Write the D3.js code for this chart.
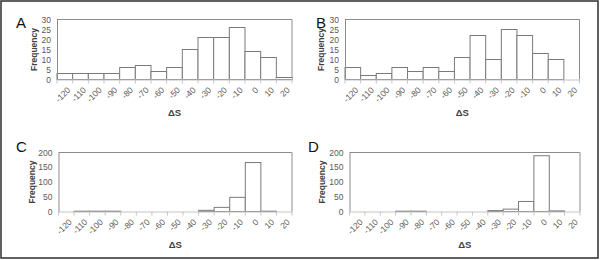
<!DOCTYPE html>
<html>
<head>
<meta charset="utf-8">
<script src="https://cdn.jsdelivr.net/npm/d3@7"></script>
<style>
  html, body { margin: 0; padding: 0; background: #fff; }
  svg { display: block; }
</style>
</head>
<body>
<svg id="chart" width="600" height="260"></svg>
<script>
// ---- data ----
const categories = ["-120","-110","-100","-90","-80","-70","-60","-50","-40","-30","-20","-10","0","10","20"];
const seriesA = [3, 3, 3, 3, 6, 7, 4, 6, 15, 21, 21, 26, 14, 11, 1];
const seriesB = [6, 2, 3, 6, 4, 6, 4, 11, 22, 10, 25, 22, 13, 10, 0];
const seriesC = [0, 1, 1, 1, 0, 0, 0, 0, 0, 4, 14, 48, 166, 1, 0];
const seriesD = [0, 0, 0, 1, 1, 0, 0, 0, 0, 3, 8, 34, 189, 2, 0];
const yTicksTop = [0, 5, 10, 15, 20, 25, 30];
const yTicksBottom = [0, 50, 100, 150, 200];
const panelLetters = ["A", "B", "C", "D"];
const xTitle = "ΔS";
const yTitle = "Frequency";

// ---- layout ----
const svg = d3.select("#chart");
svg.append("rect").attr("x", 1).attr("y", 1).attr("width", 597).attr("height", 257)
  .attr("fill", "none").attr("stroke", "#3a3a3a").attr("stroke-width", 1.6);

const panels = [
  { letter: panelLetters[0], values: seriesA, ticks: yTicksTop, l: 57, r: 292, t: 19.5, b: 79.5, lx: 16, ly: 28, ytx: 34 },
  { letter: panelLetters[1], values: seriesB, ticks: yTicksTop, l: 345, r: 579.5, t: 19.5, b: 79.5, lx: 316, ly: 28, ytx: 321 },
  { letter: panelLetters[2], values: seriesC, ticks: yTicksBottom, l: 58.5, r: 292, t: 152.5, b: 211.5, lx: 16, ly: 152, ytx: 32 },
  { letter: panelLetters[3], values: seriesD, ticks: yTicksBottom, l: 349.5, r: 580, t: 152.5, b: 211.5, lx: 308, ly: 152, ytx: 322 }
];

const font = "'Liberation Sans', Arial, sans-serif";

panels.forEach(p => {
  const g = svg.append("g");
  const x = d3.scaleBand().domain(categories).range([p.l, p.r]).padding(0);
  const yMax = p.ticks[p.ticks.length - 1];
  const y = d3.scaleLinear().domain([0, yMax]).range([p.b, p.t]);

  // plot frame (top & right)
  g.append("path")
    .attr("d", `M${p.l},${p.t}H${p.r}V${p.b}`)
    .attr("fill", "none").attr("stroke", "#8c8c8c").attr("stroke-width", 1);

  // bars
  g.selectAll("rect.bar").data(p.values.map((v, i) => ({ c: categories[i], v })))
    .join("rect").attr("class", "bar")
    .filter(d => d.v > 0)
    .attr("x", d => x(d.c)).attr("width", x.bandwidth())
    .attr("y", d => y(d.v)).attr("height", d => y(0) - y(d.v))
    .attr("fill", "#fff").attr("stroke", "#7a7a7a").attr("stroke-width", 1);

  // y axis
  const yAxis = g.append("g").attr("transform", `translate(${p.l},0)`)
    .call(d3.axisLeft(y).tickValues(p.ticks).tickSize(0).tickPadding(6));
  yAxis.select(".domain").attr("stroke", "#8c8c8c");
  yAxis.selectAll("text").attr("fill", "#595959").style("font-family", font).style("font-size", "8.5px");

  // x axis
  const xAxis = g.append("g").attr("transform", `translate(0,${p.b})`)
    .call(d3.axisBottom(x).tickSize(0));
  xAxis.select(".domain").attr("stroke", "#c4c4c4");
  xAxis.selectAll(".tick text")
    .attr("fill", "#595959").style("font-family", font).style("font-size", "8.5px")
    .attr("text-anchor", "end").attr("y", null).attr("dy", "0.35em")
    .attr("transform", "translate(4,9) rotate(-45)");
  // tick marks between categories
  const bounds = categories.map(c => x(c)).concat([p.r]);
  xAxis.selectAll("line.sep").data(bounds).join("line").attr("class", "sep")
    .attr("x1", d => d).attr("x2", d => d).attr("y1", 0).attr("y2", 4)
    .attr("stroke", "#c4c4c4");

  // titles
  g.append("text").attr("x", (p.l + p.r) / 2).attr("y", p.b + 36)
    .attr("text-anchor", "middle").attr("font-weight", "bold")
    .style("font-family", font).style("font-size", "9.5px").attr("fill", "#404040").text(xTitle);
  g.append("text")
    .attr("transform", `translate(${p.ytx},${(p.t + p.b) / 2}) rotate(-90)`)
    .attr("text-anchor", "middle").attr("dy", "0.35em").attr("font-weight", "bold")
    .style("font-family", font).style("font-size", "8.5px").attr("fill", "#404040").text(yTitle);
  g.append("text").attr("x", p.lx).attr("y", p.ly)
    .style("font-family", font).style("font-size", "15px").attr("fill", "#111").text(p.letter);
});
</script>
</body>
</html>
